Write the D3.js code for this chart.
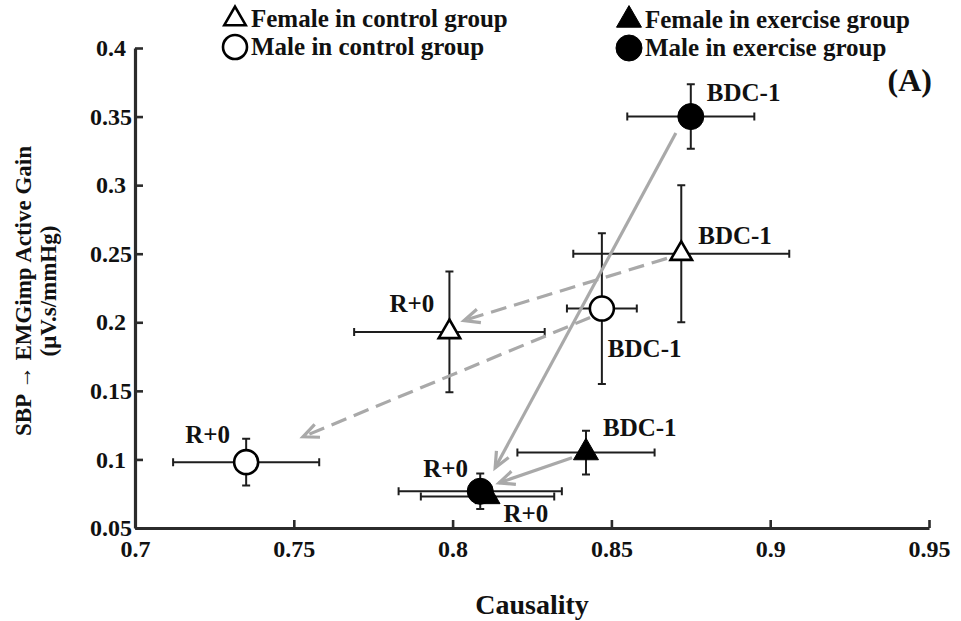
<!DOCTYPE html>
<html>
<head>
<meta charset="utf-8">
<script src="https://cdn.jsdelivr.net/npm/d3@7/dist/d3.min.js"></script>
<style>
  html, body { margin: 0; padding: 0; background: #fff; }
  svg { display: block; }
  text { font-family: "Liberation Serif", "Times New Roman", serif; font-weight: bold; fill: #111; }
</style>
</head>
<body>
<svg id="chart" width="961" height="621"></svg>
<script>
// Axis ticks
const xTicks = [0.7, 0.75, 0.8, 0.85, 0.9, 0.95];
const yTicks = [0.05, 0.1, 0.15, 0.2, 0.25, 0.3, 0.35, 0.4];

// Group means with error half-widths (xErr: causality, yErr: gain), per session
const sessions = ["BDC-1", "R+0"];
const femaleControl  = [ { x: 0.872, y: 0.250, xErr: 0.034,  yErr: 0.050 },
                         { x: 0.799, y: 0.193, xErr: 0.030,  yErr: 0.044 } ];
const maleControl    = [ { x: 0.847, y: 0.210, xErr: 0.011,  yErr: 0.055 },
                         { x: 0.735, y: 0.098, xErr: 0.023,  yErr: 0.017 } ];
const femaleExercise = [ { x: 0.842, y: 0.105, xErr: 0.0216, yErr: 0.016 },
                         { x: 0.811, y: 0.0730, xErr: 0.021, yErr: 0.004 } ];
const maleExercise   = [ { x: 0.875, y: 0.350, xErr: 0.020,  yErr: 0.0235 },
                         { x: 0.8087, y: 0.0768, xErr: 0.0257, yErr: 0.013 } ];

// BDC-1 -> R+0 transitions, drawn between these data coordinates
const transitions = [
  { from: [0.8703, 0.338], to: [0.8134, 0.0939], dashed: false },
  { from: [0.8376, 0.1012], to: [0.8146, 0.0829], dashed: false },
  { from: [0.8675, 0.2466], to: [0.8036, 0.2013], dashed: true },
  { from: [0.8433, 0.2035], to: [0.7529, 0.1165], dashed: true }
];

const groups = [
  { name: "Female in control group",  data: femaleControl,  shape: "triangle", filled: false },
  { name: "Male in control group",    data: maleControl,    shape: "circle",   filled: false },
  { name: "Female in exercise group", data: femaleExercise, shape: "triangle", filled: true },
  { name: "Male in exercise group",   data: maleExercise,   shape: "circle",   filled: true }
];

// Session label offsets (px) from each marker: [dx, dy] for BDC-1 and R+0
const labelOffsets = [
  [[17, -10], [-60, -20]],
  [[6, 48], [-61, -19]],
  [[17, -17], [16, 26]],
  [[16, -16], [-57, -14]]
];

const svg = d3.select("#chart");
const x = d3.scaleLinear().domain([0.7, 0.95]).range([135, 929]);
const y = d3.scaleLinear().domain([0.05, 0.4]).range([528, 48]);

const fmt = d => String(+d.toFixed(2));

// X axis
const gx = svg.append("g").attr("transform", `translate(0,${y(0.05)})`)
  .call(d3.axisBottom(x).tickValues(xTicks).tickFormat(fmt).tickSize(-8).tickSizeOuter(0).tickPadding(12));
// Y axis
const gy = svg.append("g").attr("transform", `translate(${x(0.7)},0)`)
  .call(d3.axisLeft(y).tickValues(yTicks).tickFormat(fmt).tickSize(-8).tickSizeOuter(0).tickPadding(24));

[gx, gy].forEach(g => {
  g.select(".domain").attr("stroke", "#2b2b2b").attr("stroke-width", 3.2);
  g.selectAll(".tick line").attr("stroke", "#2b2b2b").attr("stroke-width", 2.6);
  g.selectAll(".tick text").attr("font-size", 24).attr("font-family", "Liberation Serif").attr("font-weight", "bold").attr("fill", "#111");
});
gy.selectAll(".tick text").attr("text-anchor", "middle").attr("x", -24);
gx.selectAll(".tick text").attr("dy", "0.71em");

// Axis titles
svg.append("text").attr("x", x(0.825)).attr("y", 614).attr("text-anchor", "middle")
  .attr("font-size", 28).text("Causality");
const yTitle = svg.append("text").attr("transform", "translate(0,291) rotate(-90)")
  .attr("text-anchor", "middle").attr("font-size", 23);
yTitle.append("tspan").attr("x", 0).attr("y", 31).text("SBP \u2192 EMGimp Active Gain");
yTitle.append("tspan").attr("x", 0).attr("y", 56).text("(\u03BCV.s/mmHg)");

// Panel tag
svg.append("text").attr("x", 932).attr("y", 91).attr("text-anchor", "end").attr("font-size", 32).text("(A)");

// Error bars
const eb = svg.append("g").attr("stroke", "#1e1e1e").attr("stroke-width", 2).attr("fill", "none");
const cap = 4;
groups.forEach(gr => gr.data.forEach(d => {
  const cx = x(d.x), cy = y(d.y);
  const x0 = x(d.x - d.xErr), x1 = x(d.x + d.xErr);
  const y0 = y(d.y - d.yErr), y1 = y(d.y + d.yErr);
  eb.append("path").attr("d",
    `M${x0},${cy}H${x1}M${x0},${cy - cap}V${cy + cap}M${x1},${cy - cap}V${cy + cap}` +
    `M${cx},${y0}V${y1}M${cx - cap},${y0}H${cx + cap}M${cx - cap},${y1}H${cx + cap}`);
}));

// Transition arrows
const arrowG = svg.append("g").attr("stroke", "#a9a9a9").attr("stroke-width", 3.2).attr("fill", "none");
transitions.forEach(t => {
  const p1 = [x(t.from[0]), y(t.from[1])], p2 = [x(t.to[0]), y(t.to[1])];
  arrowG.append("line").attr("x1", p1[0]).attr("y1", p1[1]).attr("x2", p2[0]).attr("y2", p2[1])
    .attr("stroke-dasharray", t.dashed ? "16 8" : null);
  const ang = Math.atan2(p1[1] - p2[1], p1[0] - p2[0]);
  const len = 17, spread = 0.42;
  const a = [p2[0] + len * Math.cos(ang + spread), p2[1] + len * Math.sin(ang + spread)];
  const b = [p2[0] + len * Math.cos(ang - spread), p2[1] + len * Math.sin(ang - spread)];
  arrowG.append("path").attr("d", `M${a[0]},${a[1]}L${p2[0]},${p2[1]}L${b[0]},${b[1]}`)
    .attr("stroke-linejoin", "miter");
});

// Marker shapes
const triSym = d3.symbol().type(d3.symbolTriangle).size(200);
const triSymFilled = d3.symbol().type(d3.symbolTriangle).size(270);
function drawMarker(g, shape, filled, cx, cy) {
  if (shape === "circle") {
    g.append("circle").attr("cx", cx).attr("cy", cy).attr("r", filled ? 13 : 12)
      .attr("fill", filled ? "#000" : "#fff").attr("stroke", "#000").attr("stroke-width", filled ? 1 : 2.6);
  } else {
    g.append("path").attr("d", filled ? triSymFilled() : triSym()).attr("transform", `translate(${cx},${cy})`)
      .attr("fill", filled ? "#000" : "#fff").attr("stroke", "#000").attr("stroke-width", filled ? 1 : 2.6);
  }
}

const markG = svg.append("g");
groups.forEach(gr => gr.data.forEach(d => drawMarker(markG, gr.shape, gr.filled, x(d.x), y(d.y))));

// Session labels
const lblG = svg.append("g");
groups.forEach((gr, gi) => gr.data.forEach((d, si) => {
  const off = labelOffsets[gi][si];
  lblG.append("text").attr("x", x(d.x) + off[0]).attr("y", y(d.y) + off[1])
    .attr("font-size", 25).text(sessions[si]);
}));

// Legend
const legendPos = [[235, 19], [235, 47], [629, 20], [629, 48]];
const legG = svg.append("g");
groups.forEach((gr, i) => {
  const [lx, ly] = legendPos[i];
  drawMarker(legG, gr.shape, gr.filled, lx, ly);
  legG.append("text").attr("x", lx + 16).attr("y", ly + 8).attr("font-size", 25).text(gr.name);
});
</script>
</body>
</html>
